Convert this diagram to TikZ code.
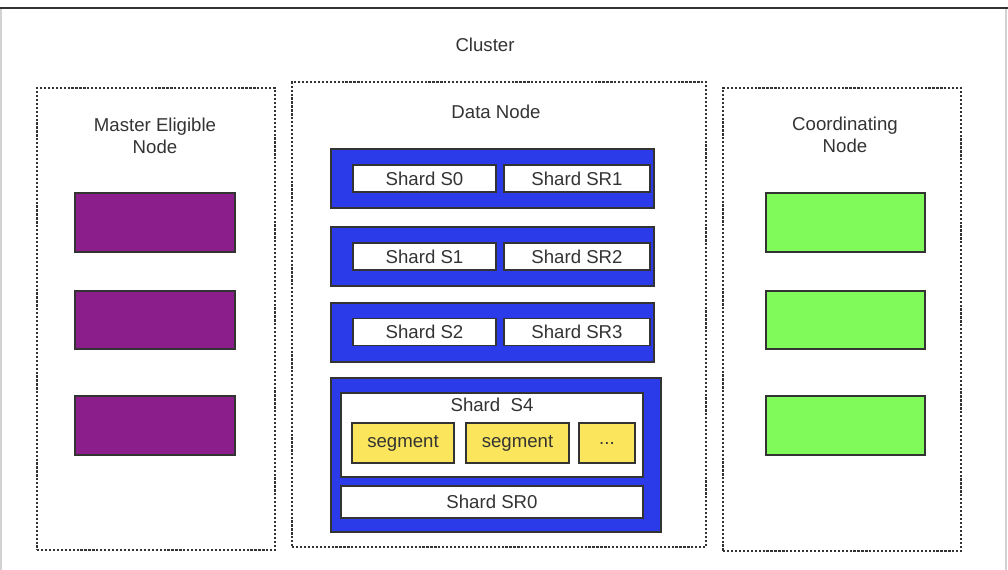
\documentclass[tikz,border=0pt]{standalone}
\usepackage{fontspec}
\setmainfont{Liberation Sans}
\usetikzlibrary{fit}
\definecolor{txt}{HTML}{333333}
\definecolor{edge}{HTML}{333333}
\definecolor{pblue}{HTML}{2B3BEA}
\definecolor{ppurple}{HTML}{8B1E8B}
\definecolor{pgreen}{HTML}{80F95B}
\definecolor{pyellow}{HTML}{FAE55C}
\tikzset{
  lbl/.style={font=\fontsize{10.6}{12.5}\selectfont, text=txt, align=center, inner sep=0pt},
  dotbox/.style={draw=edge, line width=1.5pt, dash pattern=on 1.25pt off 1.0pt, inner sep=0pt},
  solidbox/.style={draw=edge, line width=1.1pt, inner sep=0pt},
  purplebox/.style={solidbox, fill=ppurple, minimum width=3.2cm, minimum height=1.18cm},
  greenbox/.style={solidbox, fill=pgreen, minimum width=3.18cm, minimum height=1.18cm},
  bluebox/.style={solidbox, fill=pblue},
  whitebox/.style={solidbox, fill=white, font=\fontsize{10.6}{12.5}\selectfont, text=txt},
  segbox/.style={solidbox, fill=pyellow, font=\fontsize{10.6}{12.5}\selectfont, text=txt, minimum height=0.8cm},
}
\begin{document}
\begin{tikzpicture}[x=0.02cm, y=-0.02cm]
\useasboundingbox (0,0) rectangle (1008,569);
% cluster frame
\draw[gray!35, line width=0.8pt] (1,8) -- (1,575);
\draw[gray!35, line width=0.8pt] (1006,8) -- (1006,575);
\draw[edge, line width=1.3pt] (0,8) -- (1008,8);
\node[lbl] (cluster) at (485,45) {Cluster};

% dotted containers
\node[dotbox, fit={(37,88) (275,550)}] (master) {};
\node[dotbox, fit={(292,82) (706,547)}] (data) {};
\node[dotbox, fit={(723,88) (961,551)}] (coord) {};

\node[lbl] (mastertitle) at (155,136) {Master Eligible\\Node};
\node[lbl] (datatitle) at (496,112) {Data Node};
\node[lbl] (coordtitle) at (845,135) {Coordinating\\Node};

% master eligible boxes
\node[purplebox] (m1) at (155,222.5) {};
\node[purplebox, minimum height=1.16cm] (m2) at (155,320) {};
\node[purplebox] (m3) at (155,425.5) {};

% coordinating boxes
\node[greenbox] (c1) at (845.5,222.5) {};
\node[greenbox, minimum height=1.16cm] (c2) at (845.5,320) {};
\node[greenbox] (c3) at (845.5,425.5) {};

% data node shards
\node[bluebox, minimum width=6.46cm, minimum height=1.18cm] (b1) at (492.5,178.5) {};
\node[whitebox, minimum width=2.86cm, minimum height=0.54cm] (s0) at (424.5,178.5) {Shard S0};
\node[whitebox, minimum width=2.92cm, minimum height=0.54cm] (sr1) at (577,178.5) {Shard SR1};

\node[bluebox, minimum width=6.46cm, minimum height=1.18cm] (b2) at (492.5,256.5) {};
\node[whitebox, minimum width=2.86cm, minimum height=0.54cm] (s1) at (424.5,256.5) {Shard S1};
\node[whitebox, minimum width=2.92cm, minimum height=0.54cm] (sr2) at (577,256.5) {Shard SR2};

\node[bluebox, minimum width=6.46cm, minimum height=1.18cm] (b3) at (492.5,332.5) {};
\node[whitebox, minimum width=2.86cm, minimum height=0.54cm] (s2) at (424.5,332) {Shard S2};
\node[whitebox, minimum width=2.92cm, minimum height=0.54cm] (sr3) at (577,332) {Shard SR3};

\node[bluebox, minimum width=6.6cm, minimum height=3.08cm] (b4) at (496,455) {};
\node[whitebox, minimum width=6.04cm, minimum height=1.68cm] (s4) at (492,435) {};
\node[lbl] (s4title) at (492,405) {Shard\ \ S4};
\node[segbox, minimum width=2.04cm] (seg1) at (403,443) {segment};
\node[segbox, minimum width=2.06cm] (seg2) at (517.5,443) {segment};
\node[segbox, minimum width=1.12cm] (seg3) at (607,443) {{.}{.}{.}};
\node[whitebox, minimum width=6.04cm, minimum height=0.64cm] (sr0) at (492,502) {Shard SR0};
\end{tikzpicture}
\end{document}
